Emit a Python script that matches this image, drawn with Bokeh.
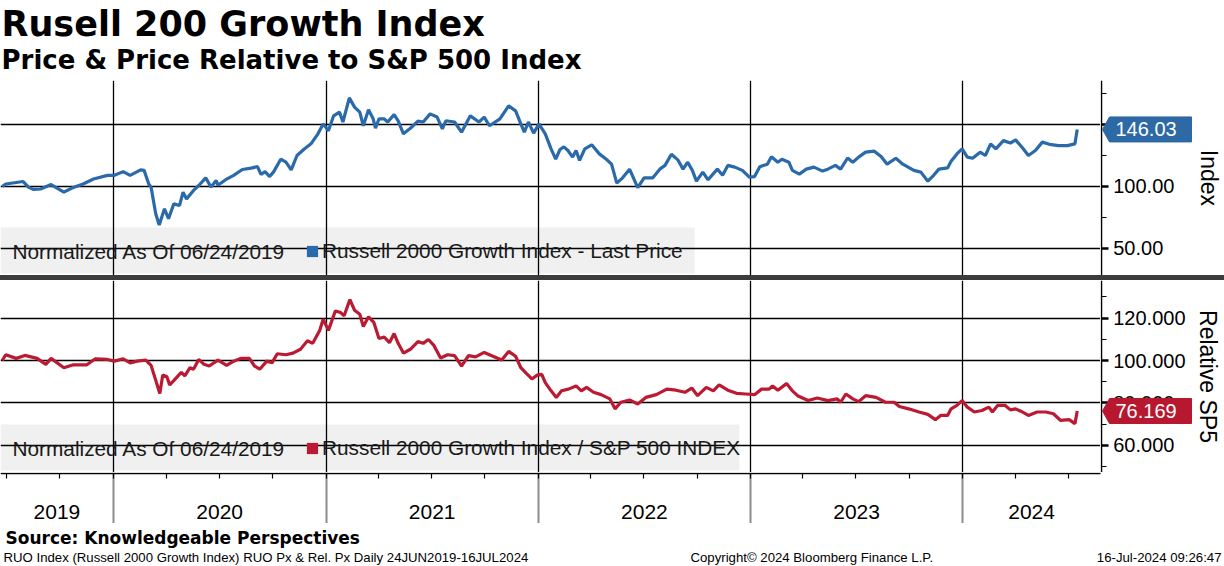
import pandas as pd
from bokeh.plotting import figure
from bokeh.models import (Range1d, FixedTicker, Label, BoxAnnotation, Legend, LegendItem, Div,
                          Grid, PrintfTickFormatter, CustomJSTickFormatter, LinearAxis, DatetimeAxis)
from bokeh.layouts import column, row
from bokeh.embed import file_html
from bokeh.resources import INLINE

# ---------------- data ----------------
START = "2019-06-24"
# days after 24 Jun 2019, Russell 2000 Growth normalized price
price_days = [0, 6, 36, 45, 54, 66, 84, 106, 121, 139, 157, 181, 193, 208, 220, 238, 244, 252, 256, 264,
              270, 279, 286, 295, 305, 311, 317, 329, 338, 350, 359, 368, 371, 386, 398, 413, 428, 439, 445, 452,
              460, 467, 479, 488, 497, 507, 519, 531, 543, 552, 561, 570, 580, 586, 597, 606, 615, 621, 630, 638,
              642, 648, 657, 663, 674, 681, 690, 702, 715, 724, 736, 748, 757, 763, 778, 790, 805, 820, 829, 838,
              856, 871, 883, 892, 898, 905, 914, 923,
              934, 944, 952, 959, 966, 973, 981, 987, 993, 1002, 1014, 1027, 1039, 1048, 1057, 1067, 1079, 1093,
              1104, 1119, 1131, 1140, 1151, 1162, 1171, 1179, 1187, 1194, 1205, 1214, 1230, 1239, 1248, 1260,
              1273, 1285, 1294, 1303, 1316, 1323, 1334, 1341, 1353, 1359, 1371, 1383, 1396, 1411, 1420, 1433,
              1442, 1454, 1463, 1473, 1485, 1500, 1512, 1522, 1537, 1549, 1568, 1580, 1592, 1602, 1611, 1626,
              1632, 1642, 1651, 1660, 1669, 1682, 1691, 1700, 1709, 1722, 1734, 1743, 1755, 1765, 1777, 1789,
              1801, 1817, 1832, 1845, 1849]
price_values = [100, 102, 104, 99.5, 97.6, 98, 101.6, 95.4, 99, 102, 106, 109, 109, 112, 109, 113.4, 113, 102, 99.5, 78,
                69, 82, 74, 86, 84.7, 95.4, 90, 96.8, 100.8, 107, 99.5, 104.8, 101, 106, 109, 113.7, 114.8, 116, 109.7, 112,
                108, 112, 122, 119.6, 113.4, 125, 130, 134.4, 142.5, 150.5, 145, 157, 160, 152, 171.5, 164, 160, 149, 162, 154.6,
                147, 154.6, 154.6, 152, 158, 153, 142.5, 147, 152.7, 152, 158.6, 156, 146.5, 153, 152, 143.8, 157, 152, 156, 149,
                154.6, 165, 161, 150.5, 143.8, 152, 143, 150.5,
                142.5, 130.4, 122, 129.6, 132, 129, 123.7, 129, 121, 130.4, 133.6, 126.3, 122, 118, 102.7, 107, 114, 99,
                107, 107, 114, 117, 126, 121.5, 114, 119.6, 113, 104.3, 111.6, 105.4, 114, 109, 117, 115.6,
                113, 107.5, 108, 116, 118, 124, 119.6, 122, 119.6, 113, 110, 114, 115.6, 112.4, 114, 117,
                114, 123, 119.6, 123.7, 127.7, 128.5, 124, 118, 122.8, 118, 113, 111.6, 104.3, 109, 114, 115,
                120.4, 126.3, 130.4, 123.7, 122.8, 127.7, 125, 134.4, 130.4, 137, 135, 137.6, 131, 125, 129, 135.8,
                134, 133, 133, 134.4, 146.03]

# days after 24 Jun 2019, Russell 2000 Growth relative to S&P 500
rel_days = [0, 6, 24, 39, 60, 75, 84, 106, 121, 145, 160, 181, 193, 208, 220, 232, 247, 256, 265, 271,
            276, 283, 288, 295, 308, 314, 323, 329, 338, 347, 356, 371, 386, 398, 410, 425, 434, 443, 455, 464,
            473, 488, 500, 513, 525, 534, 546, 552, 561, 573, 582, 588, 598, 606, 615, 621, 630, 639, 648, 657,
            666, 674, 681, 690, 702, 715, 724, 733, 742, 754, 766, 778, 790, 802, 814, 829, 844, 859, 871, 883,
            892, 901, 911, 920,
            928, 934, 944, 953, 962, 974, 987, 996, 1005, 1017, 1030, 1045, 1054, 1064, 1079, 1093, 1107, 1125,
            1143, 1159, 1174, 1186, 1196, 1211, 1223, 1233, 1248, 1263, 1279, 1294, 1306, 1319, 1325, 1334,
            1349, 1359, 1368, 1386, 1402, 1420, 1436, 1442, 1451, 1463, 1473, 1485, 1503, 1519, 1534, 1543,
            1559, 1577, 1592, 1605, 1614, 1626, 1632, 1642, 1651, 1660, 1672, 1685, 1697, 1703, 1712, 1725,
            1734, 1743, 1752, 1765, 1780, 1795, 1808, 1820, 1835, 1845, 1849]
rel_values = [100, 102.7, 101, 102.4, 101, 98.2, 101, 96.6, 97.9, 97.9, 100.8, 100.5, 99.7, 100.8, 98.9, 99.7, 100.2, 97.7, 89.8, 84.4,
              93.1, 92.5, 88.5, 90.5, 94.4, 92.8, 96.6, 95.9, 100.5, 98.2, 97.4, 100.2, 97.7, 99.7, 101, 101, 97.4, 95.9, 99.7, 98.9,
              103.2, 102.7, 103.5, 105.3, 109.3, 108.1, 114.2, 119.5, 114.2, 123.4, 122.6, 121.1, 128.7, 123.7, 121.8, 116, 120.6, 118, 110.4, 111.1,
              108.4, 112.7, 108.1, 103.5, 105.3, 108.9, 108.1, 109.9, 107.3, 101.2, 102.7, 102.3, 97.4, 102.3, 101.7, 103.8, 102, 100.2, 104.3, 102,
              96.6, 94, 91.3, 93.1,
              93.5, 89.6, 85.7, 82.6, 85.7, 86.5, 88, 85.7, 87.3, 85, 83.9, 81.9, 77.2, 80.3, 81.4, 79.5, 82.6, 83.9,
              86.5, 86, 85, 87, 83.4, 87.3, 85.7, 88.5, 86, 84.5, 84.2, 83.9, 86.5, 86.5, 88, 86,
              89.1, 85.7, 83.4, 81.1, 82.3, 81.1, 81.9, 80.3, 84.2, 81.9, 80.6, 83.4, 82.6, 80.3, 80.3, 78.3,
              77.2, 75.7, 74.6, 72.1, 74.1, 74.1, 77.2, 78.8, 81.1, 78, 75.7, 76.4, 78, 75.7, 78.8, 78.8,
              76.7, 77.2, 76.1, 74.1, 75.7, 75.7, 74.9, 71.8, 72.1, 70.2, 76.169]

year_labels = ["2019", "2020", "2021", "2022", "2023", "2024"]
price_ticks = [50, 100, 150]
price_minor = [75, 125, 175]
rel_ticks = [60, 80, 100, 120]
rel_minor = [50, 70, 90, 110, 130]
price_last = 146.03
rel_last = 76.169

# ---------------- styles ----------------
BLUE = "#2a69aa"
RED = "#bb1a32"
BADGE_BLUE = "#2c69a5"
BADGE_RED = "#b7182f"
FONT = "Liberation Sans"
BOLD = "DejaVu Sans"

W = 1224
RB = 124
FW = W - RB
H1, H2 = 195, 192
x_start = pd.Timestamp("2019-06-21")
x_end = pd.Timestamp("2024-08-25")
band_end = x_start + (x_end - x_start) * W / FW
yr1 = Range1d(28.2, 185.5)
yr2 = Range1d(47.17, 137.74)

price_dates = pd.Timestamp(START) + pd.to_timedelta(price_days, unit="D")
rel_dates = pd.Timestamp(START) + pd.to_timedelta(rel_days, unit="D")


def ms(ts):
    return pd.Timestamp(ts).value / 1e6


year_starts = [ms(f"{y}-01-01") for y in range(2020, 2025)]
quarter_starts = [ms(d) for d in pd.date_range("2019-07-01", "2024-07-01", freq="QS")]
year_mids = []
for y in year_labels:
    lo = max(ms(x_start), ms(f"{y}-01-01"))
    hi = min(ms(x_end), ms(f"{int(y) + 1}-01-01"))
    year_mids.append((lo + hi) / 2)

BASE = dict(toolbar_location=None, output_backend="svg", title=None,
            min_border=0, min_border_left=0, min_border_right=0, min_border_top=0, min_border_bottom=0,
            outline_line_color=None, background_fill_color="white", border_fill_color="white",
            x_axis_location=None, y_axis_location=None)


def bare(**kw):
    f = figure(**BASE, **kw)
    for g in f.grid:
        g.visible = False
    return f


def text_fig(height):
    return bare(width=W, height=height, x_range=Range1d(0, W), y_range=Range1d(0, height))


def panel_fig(height, y_range, ticks):
    f = bare(width=FW, height=height, x_range=xr, y_range=y_range, x_axis_type="datetime")
    f.add_layout(Grid(dimension=0, ticker=FixedTicker(ticks=year_starts), grid_line_color="black",
                      grid_line_width=1.3))
    f.add_layout(Grid(dimension=1, ticker=FixedTicker(ticks=ticks), grid_line_color="black",
                      grid_line_width=1.3))
    return f


def axis_fig(height, y_range, ticks, minor, fmt, overrides, label, standoff, value, vfmt, color):
    f = bare(width=RB, height=height, x_range=Range1d(0, RB), y_range=y_range)
    ax = LinearAxis(fixed_location=0.75, ticker=FixedTicker(ticks=ticks, minor_ticks=minor),
                    formatter=PrintfTickFormatter(format=fmt), major_label_overrides=overrides,
                    axis_label=label, axis_label_text_font=FONT, axis_label_text_font_size="23px",
                    axis_label_text_font_style="normal", axis_label_text_color="black",
                    axis_label_standoff=standoff,
                    major_label_text_font=FONT, major_label_text_font_size="20px",
                    major_label_text_color="black", major_label_standoff=5,
                    axis_line_color="black", axis_line_width=1.5,
                    major_tick_in=0, major_tick_out=7, major_tick_line_width=2.5,
                    major_tick_line_color="black",
                    minor_tick_in=0, minor_tick_out=5, minor_tick_line_color="black", minor_tick_line_width=1.2)
    f.add_layout(ax, "right")
    # value badge with arrow, placed at the last value on the scale
    h = 12.5 * (y_range.end - y_range.start) / height
    f.patch(x=[2, 9, 91, 91, 9], y=[value, value + h, value + h, value - h, value - h],
            fill_color=color, line_color=color, level="overlay")
    f.add_layout(Label(x=15, y=value, text=vfmt % value, text_font=FONT, text_font_size="20px",
                       text_color="white", text_baseline="middle", level="overlay"))
    return f


xr = Range1d(x_start, x_end)

# ---------------- header ----------------
hdr = text_fig(80)
hdr.add_layout(Label(x=1, y=57, text="Rusell 200 Growth Index",
                     text_font=BOLD, text_font_size="35px", text_font_style="bold", text_color="black",
                     text_baseline="middle"))
hdr.add_layout(Label(x=1, y=20.5, text="Price & Price Relative to S&P 500 Index",
                     text_font=BOLD, text_font_size="26px", text_font_style="bold", text_color="black",
                     text_baseline="middle"))

# ---------------- top panel ----------------
p1 = panel_fig(H1, yr1, price_ticks)
p1.add_layout(BoxAnnotation(left=ms(x_start), right=ms("2022-09-27"), bottom=29.8, top=66.9,
                            fill_color="#f0f0f0", fill_alpha=1, line_color=None, level="image"))
p1.line(price_dates, price_values, line_color=BLUE, line_width=3.2)
sw1 = p1.rect(x=price_dates, y=price_values, width=0, height=0, fill_color=BLUE, line_color=None)
p1.add_layout(Legend(items=[LegendItem(label="Russell 2000 Growth Index - Last Price", renderers=[sw1])],
                     location=(305, 12), orientation="horizontal", padding=0, margin=0, spacing=0,
                     glyph_width=14, glyph_height=14, label_standoff=3,
                     label_text_font=FONT, label_text_font_size="20.8px", label_text_color="#1a1a1a",
                     background_fill_alpha=0, border_line_alpha=0))
p1.add_layout(Label(x=12, y=24, x_units="screen", y_units="screen", text="Normalized As Of 06/24/2019",
                    text_font=FONT, text_font_size="20.8px", text_color="#1a1a1a", text_baseline="middle"))
a1 = axis_fig(H1, yr1, price_ticks, price_minor, "%.2f", {150: ""}, "Index", 18,
              price_last, "%.2f", BADGE_BLUE)

# ---------------- separator ----------------
sep = Div(text="", width=W, height=5, margin=0, styles={"background-color": "#3c3c3c"})

# ---------------- bottom panel ----------------
p2 = panel_fig(H2, yr2, rel_ticks)
p2.add_layout(BoxAnnotation(left=ms(x_start), right=ms("2022-12-13"), bottom=48.1, top=69.8,
                            fill_color="#f0f0f0", fill_alpha=1, line_color=None, level="image"))
p2.line(rel_dates, rel_values, line_color=RED, line_width=3.2)
sw2 = p2.rect(x=rel_dates, y=rel_values, width=0, height=0, fill_color=RED, line_color=None)
p2.add_layout(Legend(items=[LegendItem(label="Russell 2000 Growth Index / S&P 500 INDEX", renderers=[sw2])],
                     location=(305, 12), orientation="horizontal", padding=0, margin=0, spacing=0,
                     glyph_width=14, glyph_height=14, label_standoff=3,
                     label_text_font=FONT, label_text_font_size="20.8px", label_text_color="#1a1a1a",
                     background_fill_alpha=0, border_line_alpha=0))
p2.add_layout(Label(x=12, y=24, x_units="screen", y_units="screen", text="Normalized As Of 06/24/2019",
                    text_font=FONT, text_font_size="20.8px", text_color="#1a1a1a", text_baseline="middle"))
a2 = axis_fig(H2, yr2, rel_ticks, rel_minor, "%.3f", {}, "Relative SP5", 6,
              rel_last, "%.3f", BADGE_RED)

# ---------------- time axis band ----------------
band = bare(width=W, height=51, x_range=Range1d(x_start, band_end), y_range=Range1d(0, 51),
            x_axis_type="datetime")
band.add_layout(Grid(dimension=0, ticker=FixedTicker(ticks=year_starts), grid_line_color="#8c8c8c",
                     grid_line_width=2))
band.add_layout(DatetimeAxis(fixed_location=50.3, bounds=(ms(x_start), ms(x_end)),
                             ticker=FixedTicker(ticks=quarter_starts, minor_ticks=[]),
                             formatter=CustomJSTickFormatter(code="return ''"),
                             axis_line_color="black", axis_line_width=1.5,
                             major_tick_in=0, major_tick_out=5, major_tick_line_color="black",
                             major_tick_line_width=1.2, minor_tick_line_color=None), "below")
for yl, xm in zip(year_labels, year_mids):
    band.add_layout(Label(x=xm, y=12, text=yl, text_font=FONT, text_font_size="21px", text_color="black",
                          text_align="center", text_baseline="middle"))

# ---------------- footer ----------------
ftr = text_fig(43)
ftr.add_layout(Label(x=5, y=29, text="Source: Knowledgeable Perspectives",
                     text_font=BOLD, text_font_size="17px", text_font_style="bold", text_color="black",
                     text_baseline="middle"))
ftr.add_layout(Label(x=3, y=9, text="RUO Index (Russell 2000 Growth Index) RUO Px & Rel. Px  Daily 24JUN2019-16JUL2024",
                     text_font=FONT, text_font_size="13.2px", text_color="black", text_baseline="middle"))
ftr.add_layout(Label(x=690, y=9, text="Copyright\u00a9 2024 Bloomberg Finance L.P.",
                     text_font=FONT, text_font_size="13.2px", text_color="black", text_baseline="middle"))
ftr.add_layout(Label(x=1221, y=9, text="16-Jul-2024 09:26:47",
                     text_font=FONT, text_font_size="13.2px", text_color="black", text_baseline="middle",
                     text_align="right"))

layout = column(hdr, row(p1, a1, spacing=0), sep, row(p2, a2, spacing=0), band, ftr, spacing=0)
open("out.html", "w").write(file_html(layout, INLINE))
